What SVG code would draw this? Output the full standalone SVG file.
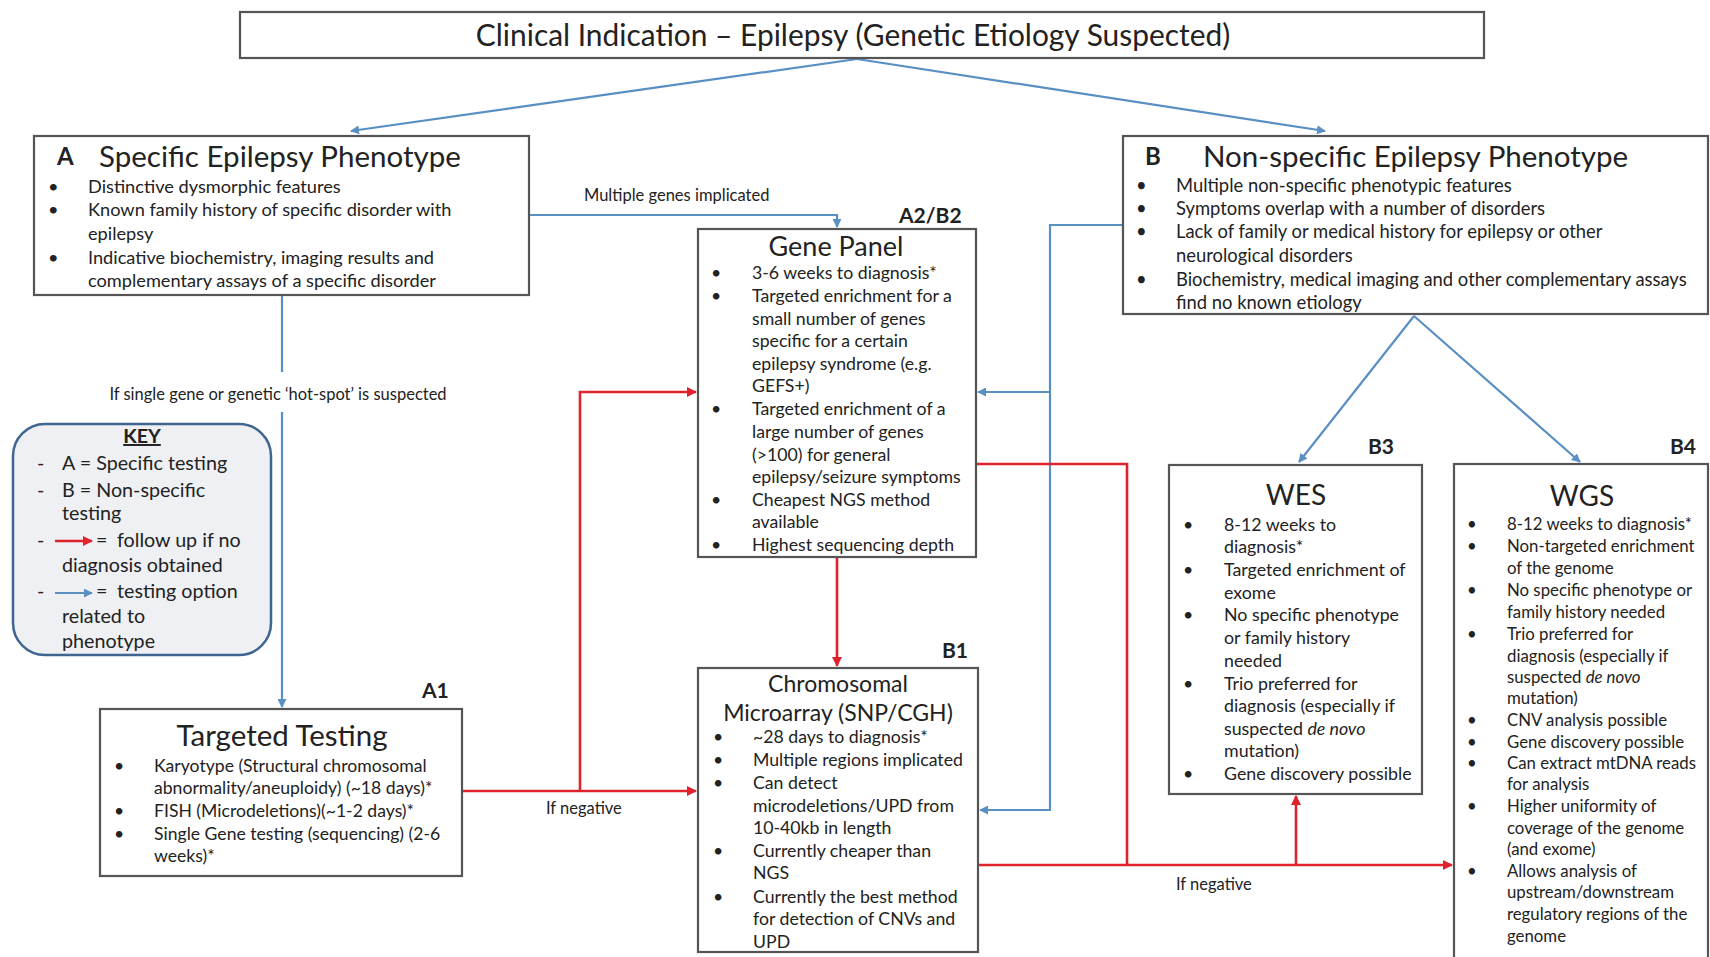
<svg xmlns="http://www.w3.org/2000/svg" width="1710" height="957" viewBox="0 0 1710 957">
<style>
  text { font-family: Lato, "Open Sans", "Liberation Sans", sans-serif; fill: #222; }
  .box { fill: #fff; stroke: #555; stroke-width: 2.2; }
  .title { font-size: 29.9px; }
  .head { font-size: 29.5px; }
  .tag { font-size: 21px; font-weight: bold; }
  .abc { font-size: 24px; font-weight: bold; }
  .tA { font-size: 18.2px; }
  .tB { font-size: 18.4px; }
  .tA1 { font-size: 17.6px; }
  .tg { font-size: 17.7px; }
  .tw { font-size: 17.8px; }
  .tgs { font-size: 16.8px; }
  .lbl { font-size: 16.5px; }
  .key { font-size: 19.7px; }
  .blue { fill: none; stroke: #5a8fc4; stroke-width: 2.2; }
  .red { fill: none; stroke: #e0222c; stroke-width: 2.6; }
  .c { text-anchor: middle; }
</style>
<defs>
  <marker id="ab" viewBox="0 0 10 10" refX="9" refY="5" markerWidth="9" markerHeight="9" markerUnits="userSpaceOnUse" orient="auto">
    <path d="M0,0 L10,5 L0,10 Z" fill="#5a8fc4"/>
  </marker>
  <marker id="ar" viewBox="0 0 10 10" refX="9" refY="5" markerWidth="10" markerHeight="10" markerUnits="userSpaceOnUse" orient="auto">
    <path d="M0,0 L10,5 L0,10 Z" fill="#e0222c"/>
  </marker>
</defs>
<rect width="1710" height="957" fill="#fff"/>

<g id="connectors">
  <path class="blue" d="M857,59 L351,131" marker-end="url(#ab)"/>
  <path class="blue" d="M857,59 L1325,131" marker-end="url(#ab)"/>
  <path class="blue" d="M282,295 V372"/>
  <path class="blue" d="M282,412 V707" marker-end="url(#ab)"/>
  <path class="blue" d="M530,215 H837 V227" marker-end="url(#ab)"/>
  <path class="blue" d="M1122,225 H1050 V810 H980" marker-end="url(#ab)"/>
  <path class="blue" d="M1050,392 H978" marker-end="url(#ab)"/>
  <path class="blue" d="M1414,316 L1299,462" marker-end="url(#ab)"/>
  <path class="blue" d="M1414,316 L1580,462" marker-end="url(#ab)"/>
  <path class="red" d="M462,791 H696" marker-end="url(#ar)"/>
  <path class="red" d="M580,791 V392 H696" marker-end="url(#ar)"/>
  <path class="red" d="M837,557 V666" marker-end="url(#ar)"/>
  <path class="red" d="M976,464 H1127 V865"/>
  <path class="red" d="M978,865 H1452" marker-end="url(#ar)"/>
  <path class="red" d="M1296,865 V796" marker-end="url(#ar)"/>
  <text class="lbl" x="584" y="201">Multiple genes implicated</text>
  <text class="lbl c" x="278" y="400">If single gene or genetic ‘hot-spot’ is suspected</text>
  <text class="lbl" x="546" y="814">If negative</text>
  <text class="lbl" x="1176" y="890">If negative</text>
</g>

<g id="title">
  <rect class="box" x="240" y="12" width="1244" height="46"/>
  <text class="title c" x="853" y="46">Clinical Indication – Epilepsy (Genetic Etiology Suspected)</text>
</g>

<g id="nodeA">
  <rect class="box" x="34" y="136" width="495" height="159"/>
  <text class="abc" x="57" y="165">A</text>
  <text class="head" x="99" y="167">Specific Epilepsy Phenotype</text>
  <g class="tA">
    <text x="48" y="193">•</text><text x="88" y="193">Distinctive dysmorphic features</text>
    <text x="48" y="216">•</text><text x="88" y="216">Known family history of specific disorder with</text>
    <text x="88" y="240">epilepsy</text>
    <text x="48" y="264">•</text><text x="88" y="264">Indicative biochemistry, imaging results and</text>
    <text x="88" y="287">complementary assays of a specific disorder</text>
  </g>
</g>

<g id="nodeB">
  <rect class="box" x="1123" y="136" width="585" height="178"/>
  <text class="abc" x="1145" y="165">B</text>
  <text class="head" x="1203" y="167">Non-specific Epilepsy Phenotype</text>
  <g class="tB">
    <text x="1136" y="192">•</text><text x="1176" y="192">Multiple non-specific phenotypic features</text>
    <text x="1136" y="215">•</text><text x="1176" y="215">Symptoms overlap with a number of disorders</text>
    <text x="1136" y="238">•</text><text x="1176" y="238">Lack of family or medical history for epilepsy or other</text>
    <text x="1176" y="262">neurological disorders</text>
    <text x="1136" y="286">•</text><text x="1176" y="286">Biochemistry, medical imaging and other complementary assays</text>
    <text x="1176" y="309">find no known etiology</text>
  </g>
</g>

<g id="key">
  <rect x="13" y="424" width="258" height="231" rx="32" ry="32" fill="#eef0f3" stroke="#3f6590" stroke-width="2.5"/>
  <text class="key c" x="142" y="443" font-weight="bold" text-decoration="underline">KEY</text>
  <g class="key">
    <text x="37" y="470">-</text><text x="62" y="470">A = Specific testing</text>
    <text x="37" y="497">-</text><text x="62" y="497">B = Non-specific</text>
    <text x="62" y="520">testing</text>
    <text x="37" y="547">-</text><text x="96" y="547">=</text><text x="117" y="547">follow up if no</text>
    <text x="62" y="572">diagnosis obtained</text>
    <text x="37" y="598">-</text><text x="96" y="598">=</text><text x="117" y="598">testing option</text>
    <text x="62" y="623">related to</text>
    <text x="62" y="648">phenotype</text>
  </g>
  <path class="red" d="M55,541 H92" marker-end="url(#ar)"/>
  <path class="blue" d="M55,593 H92" marker-end="url(#ab)"/>
</g>

<g id="nodeA2B2">
  <rect class="box" x="698" y="229" width="278" height="328"/>
  <text class="tag" x="899" y="223">A2/B2</text>
  <text class="head c" x="836" y="256" style="font-size:27px">Gene Panel</text>
  <g class="tg">
    <text x="711" y="279">•</text><text x="752" y="279">3-6 weeks to diagnosis*</text>
    <text x="711" y="302">•</text><text x="752" y="302">Targeted enrichment for a</text>
    <text x="752" y="325">small number of genes</text>
    <text x="752" y="347">specific for a certain</text>
    <text x="752" y="370">epilepsy syndrome (e.g.</text>
    <text x="752" y="392">GEFS+)</text>
    <text x="711" y="415">•</text><text x="752" y="415">Targeted enrichment of a</text>
    <text x="752" y="438">large number of genes</text>
    <text x="752" y="461">(&gt;100) for general</text>
    <text x="752" y="483">epilepsy/seizure symptoms</text>
    <text x="711" y="506">•</text><text x="752" y="506">Cheapest NGS method</text>
    <text x="752" y="528">available</text>
    <text x="711" y="551">•</text><text x="752" y="551">Highest sequencing depth</text>
  </g>
</g>

<g id="nodeA1">
  <rect class="box" x="100" y="709" width="362" height="167"/>
  <text class="tag" x="422" y="698">A1</text>
  <text class="head c" x="282" y="746">Targeted Testing</text>
  <g class="tA1">
    <text x="114" y="772">•</text><text x="154" y="772">Karyotype (Structural chromosomal</text>
    <text x="154" y="794">abnormality/aneuploidy) (~18 days)*</text>
    <text x="114" y="817">•</text><text x="154" y="817">FISH (Microdeletions)(~1-2 days)*</text>
    <text x="114" y="840">•</text><text x="154" y="840">Single Gene testing (sequencing) (2-6</text>
    <text x="154" y="862">weeks)*</text>
  </g>
</g>

<g id="nodeB1">
  <rect class="box" x="698" y="668" width="280" height="284"/>
  <text class="tag" x="942" y="658">B1</text>
  <text class="head c" x="838" y="692" style="font-size:23px">Chromosomal</text>
  <text class="head c" x="838" y="721" style="font-size:23px">Microarray (SNP/CGH)</text>
  <g class="tg">
    <text x="713" y="743">•</text><text x="753" y="743">~28 days to diagnosis*</text>
    <text x="713" y="766">•</text><text x="753" y="766">Multiple regions implicated</text>
    <text x="713" y="789">•</text><text x="753" y="789">Can detect</text>
    <text x="753" y="812">microdeletions/UPD from</text>
    <text x="753" y="834">10-40kb in length</text>
    <text x="713" y="857">•</text><text x="753" y="857">Currently cheaper than</text>
    <text x="753" y="879">NGS</text>
    <text x="713" y="903">•</text><text x="753" y="903">Currently the best method</text>
    <text x="753" y="925">for detection of CNVs and</text>
    <text x="753" y="948">UPD</text>
  </g>
</g>

<g id="nodeB3">
  <rect class="box" x="1169" y="465" width="253" height="329"/>
  <text class="tag" x="1368" y="454">B3</text>
  <text class="head c" x="1296" y="505" style="font-size:28px">WES</text>
  <g class="tw">
    <text x="1183" y="531">•</text><text x="1224" y="531">8-12 weeks to</text>
    <text x="1224" y="553">diagnosis*</text>
    <text x="1183" y="576">•</text><text x="1224" y="576">Targeted enrichment of</text>
    <text x="1224" y="599">exome</text>
    <text x="1183" y="621">•</text><text x="1224" y="621">No specific phenotype</text>
    <text x="1224" y="644">or family history</text>
    <text x="1224" y="667">needed</text>
    <text x="1183" y="690">•</text><text x="1224" y="690">Trio preferred for</text>
    <text x="1224" y="712">diagnosis (especially if</text>
    <text x="1224" y="735">suspected <tspan font-style="italic">de novo</tspan></text>
    <text x="1224" y="757">mutation)</text>
    <text x="1183" y="780">•</text><text x="1224" y="780">Gene discovery possible</text>
  </g>
</g>

<g id="nodeB4">
  <rect class="box" x="1454" y="464" width="254" height="500"/>
  <text class="tag" x="1670" y="454">B4</text>
  <text class="head c" x="1582" y="506" style="font-size:28px">WGS</text>
  <g class="tgs">
    <text x="1467" y="530">•</text><text x="1507" y="530">8-12 weeks to diagnosis*</text>
    <text x="1467" y="552">•</text><text x="1507" y="552">Non-targeted enrichment</text>
    <text x="1507" y="574">of the genome</text>
    <text x="1467" y="596">•</text><text x="1507" y="596">No specific phenotype or</text>
    <text x="1507" y="618">family history needed</text>
    <text x="1467" y="640">•</text><text x="1507" y="640">Trio preferred for</text>
    <text x="1507" y="662">diagnosis (especially if</text>
    <text x="1507" y="683">suspected <tspan font-style="italic">de novo</tspan></text>
    <text x="1507" y="704">mutation)</text>
    <text x="1467" y="726">•</text><text x="1507" y="726">CNV analysis possible</text>
    <text x="1467" y="748">•</text><text x="1507" y="748">Gene discovery possible</text>
    <text x="1467" y="769">•</text><text x="1507" y="769">Can extract mtDNA reads</text>
    <text x="1507" y="790">for analysis</text>
    <text x="1467" y="812">•</text><text x="1507" y="812">Higher uniformity of</text>
    <text x="1507" y="834">coverage of the genome</text>
    <text x="1507" y="855">(and exome)</text>
    <text x="1467" y="877">•</text><text x="1507" y="877">Allows analysis of</text>
    <text x="1507" y="898">upstream/downstream</text>
    <text x="1507" y="920">regulatory regions of the</text>
    <text x="1507" y="942">genome</text>
  </g>
</g>
</svg>
